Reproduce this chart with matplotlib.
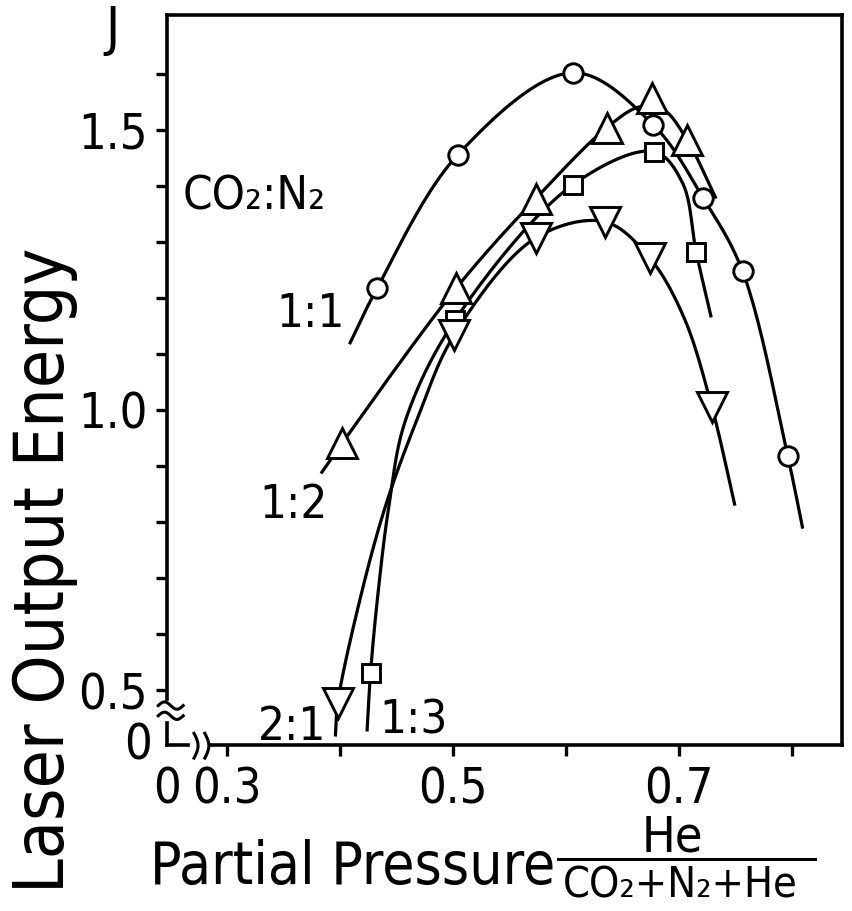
import numpy as np
import matplotlib
matplotlib.use("Agg")
import matplotlib.pyplot as plt
from matplotlib.lines import Line2D

plt.rcParams['font.family'] = ['DejaVu Sans Condensed', 'Liberation Sans Narrow',
                               'Noto Sans Condensed', 'DejaVu Sans']
plt.rcParams['font.stretch'] = 'condensed'

# measured points: He partial pressure fraction vs laser output energy (J)
he_11 = [0.433, 0.504, 0.606, 0.677, 0.721, 0.756, 0.796]
e_11 = [1.218, 1.455, 1.602, 1.509, 1.379, 1.248, 0.918]
he_12 = [0.402, 0.503, 0.573, 0.636, 0.676, 0.707]
e_12 = [0.941, 1.218, 1.377, 1.504, 1.557, 1.482]
he_13 = [0.427, 0.502, 0.606, 0.678, 0.715]
e_13 = [0.530, 1.161, 1.402, 1.461, 1.282]
he_21 = [0.398, 0.501, 0.573, 0.634, 0.674, 0.729]
e_21 = [0.477, 1.134, 1.307, 1.336, 1.271, 1.005]

# knots
curve_11_x = [0.409, 0.433, 0.504, 0.606, 0.677, 0.721, 0.756, 0.796, 0.809]
curve_11_y = [1.120, 1.218, 1.455, 1.602, 1.509, 1.379, 1.248, 0.918, 0.791]
curve_12_x = [0.384, 0.402, 0.503, 0.573, 0.636, 0.665, 0.686, 0.707, 0.732]
curve_12_y = [0.889, 0.941, 1.218, 1.377, 1.504, 1.541, 1.536, 1.482, 1.380]
curve_13_x = [0.424, 0.427, 0.433, 0.443, 0.458, 0.502, 0.606, 0.678, 0.703, 0.715, 0.728]
curve_13_y = [0.429, 0.530, 0.661, 0.825, 0.982, 1.161, 1.402, 1.461, 1.405, 1.282, 1.168]
curve_21_x = [0.396, 0.398, 0.416, 0.440, 0.468, 0.501, 0.573, 0.634, 0.674, 0.704, 0.729, 0.749]
curve_21_y = [0.420, 0.477, 0.648, 0.827, 0.982, 1.134, 1.307, 1.336, 1.271, 1.166, 1.005, 0.832]


def smooth(xs, ys, n=25):
    # centripetal catmull-rom, x stretched so it works in roughly screen space
    p = np.column_stack([np.asarray(xs) * 2.0, ys])
    p = np.vstack([2 * p[0] - p[1], p, 2 * p[-1] - p[-2]])
    pts = []
    for i in range(1, len(p) - 2):
        P0, P1, P2, P3 = p[i - 1], p[i], p[i + 1], p[i + 2]
        t0 = 0.0
        t1 = t0 + np.linalg.norm(P1 - P0) ** 0.5
        t2 = t1 + np.linalg.norm(P2 - P1) ** 0.5
        t3 = t2 + np.linalg.norm(P3 - P2) ** 0.5
        t = np.linspace(t1, t2, n)[:, None]
        A1 = (t1 - t) / (t1 - t0) * P0 + (t - t0) / (t1 - t0) * P1
        A2 = (t2 - t) / (t2 - t1) * P1 + (t - t1) / (t2 - t1) * P2
        A3 = (t3 - t) / (t3 - t2) * P2 + (t - t2) / (t3 - t2) * P3
        B1 = (t2 - t) / (t2 - t0) * A1 + (t - t0) / (t2 - t0) * A2
        B2 = (t3 - t) / (t3 - t1) * A2 + (t - t1) / (t3 - t1) * A3
        C = (t2 - t) / (t2 - t1) * B1 + (t - t1) / (t2 - t1) * B2
        pts.append(C)
    pts = np.vstack(pts)
    return pts[:, 0] / 2.0, pts[:, 1]


fig = plt.figure(figsize=(8.53, 9.11), dpi=100)
ax = fig.add_axes([167 / 853, 166 / 911, 675 / 853, 730 / 911])
ax.set_xlim(0.247, 0.844)
ax.set_ylim(0.402, 1.705)

lw = 2.3
for cx, cy in [(curve_11_x, curve_11_y), (curve_12_x, curve_12_y),
               (curve_13_x, curve_13_y), (curve_21_x, curve_21_y)]:
    sx, sy = smooth(cx, cy)
    ax.plot(sx, sy, color='black', lw=lw, zorder=2)

mk = dict(linestyle='none', markerfacecolor='white', markeredgecolor='black',
          markeredgewidth=2.1, zorder=3)
ax.plot(he_11, e_11, marker='o', markersize=14, **mk)
ax.plot(he_12, e_12, marker='^', markersize=21, **mk)
ax.plot(he_13, e_13, marker='s', markersize=13, **mk)
ax.plot(he_21, e_21, marker='v', markersize=21, **mk)

# axes styling
for s in ax.spines.values():
    s.set_linewidth(2.6)
ax.set_xticks([0.3, 0.4, 0.5, 0.6, 0.7, 0.8])
ax.set_xticklabels(['0.3', '', '0.5', '', '0.7', ''])
ax.set_yticks([0.5, 0.6, 0.7, 0.8, 0.9, 1.0, 1.1, 1.2, 1.3, 1.4, 1.5, 1.6])
ax.set_yticklabels(['0.5', '', '', '', '', '1.0', '', '', '', '', '1.5', ''])
ax.tick_params(axis='both', direction='out', length=8, width=2.4, labelsize=35)
ax.tick_params(axis='y', pad=6)
ax.tick_params(axis='x', pad=7)

# zero labels at the broken origin
ax.text(-0.022, 0.0, '0', transform=ax.transAxes, ha='right', va='center', fontsize=35)
ax.text(0.0, -0.028, '0', transform=ax.transAxes, ha='center', va='top', fontsize=35)

# axis break marks
tt = np.linspace(0, 1, 30)
ax.add_line(Line2D([0, 0], [0.039, 0.055], transform=ax.transAxes, color='white',
                   lw=6, clip_on=False, zorder=5))
for yb in (0.040, 0.054):
    ax.add_line(Line2D(-0.013 + 0.037 * tt, yb + 0.005 * np.sin(2 * np.pi * tt),
                       transform=ax.transAxes, color='black', lw=2.2,
                       clip_on=False, zorder=6))
ax.add_line(Line2D([0.040, 0.056], [0, 0], transform=ax.transAxes, color='white',
                   lw=6, clip_on=False, zorder=5))
for xb in (0.040, 0.056):
    ax.add_line(Line2D(xb + 0.006 * np.sin(np.pi * tt), -0.018 + 0.034 * tt,
                       transform=ax.transAxes, color='black', lw=2.2,
                       clip_on=False, zorder=6))

# series labels
fs = 34
ax.text(0.261, 1.357, 'CO₂:N₂', fontsize=fs, ha='left', va='baseline')
ax.text(0.344, 1.148, '1:1', fontsize=fs, ha='left', va='baseline')
ax.text(0.329, 0.807, '1:2', fontsize=fs, ha='left', va='baseline')
ax.text(0.327, 0.411, '2:1', fontsize=fs, ha='left', va='baseline', clip_on=False)
ax.text(0.435, 0.423, '1:3', fontsize=fs, ha='left', va='baseline', clip_on=False)

# unit and axis titles
fig.text(112 / 853, 1 - 30 / 911, 'J', fontsize=38, ha='center', va='center')
fig.text(45 / 853, 1 - 570 / 911, 'Laser Output Energy', fontsize=50,
         rotation=90, ha='center', va='center')
fig.text(150 / 853, 1 - 884 / 911, 'Partial Pressure', fontsize=42,
         ha='left', va='baseline')
fig.text(672 / 853, 1 - 851 / 911, 'He', fontsize=36, ha='center', va='baseline')
fig.add_artist(Line2D([558 / 853, 815 / 853], [1 - 859 / 911, 1 - 859 / 911],
                      color='black', lw=2.2))
fig.text(680 / 853, 1 - 865 / 911, 'CO₂+N₂+He', fontsize=31,
         ha='center', va='top')

fig.savefig('out.png', dpi=100)
